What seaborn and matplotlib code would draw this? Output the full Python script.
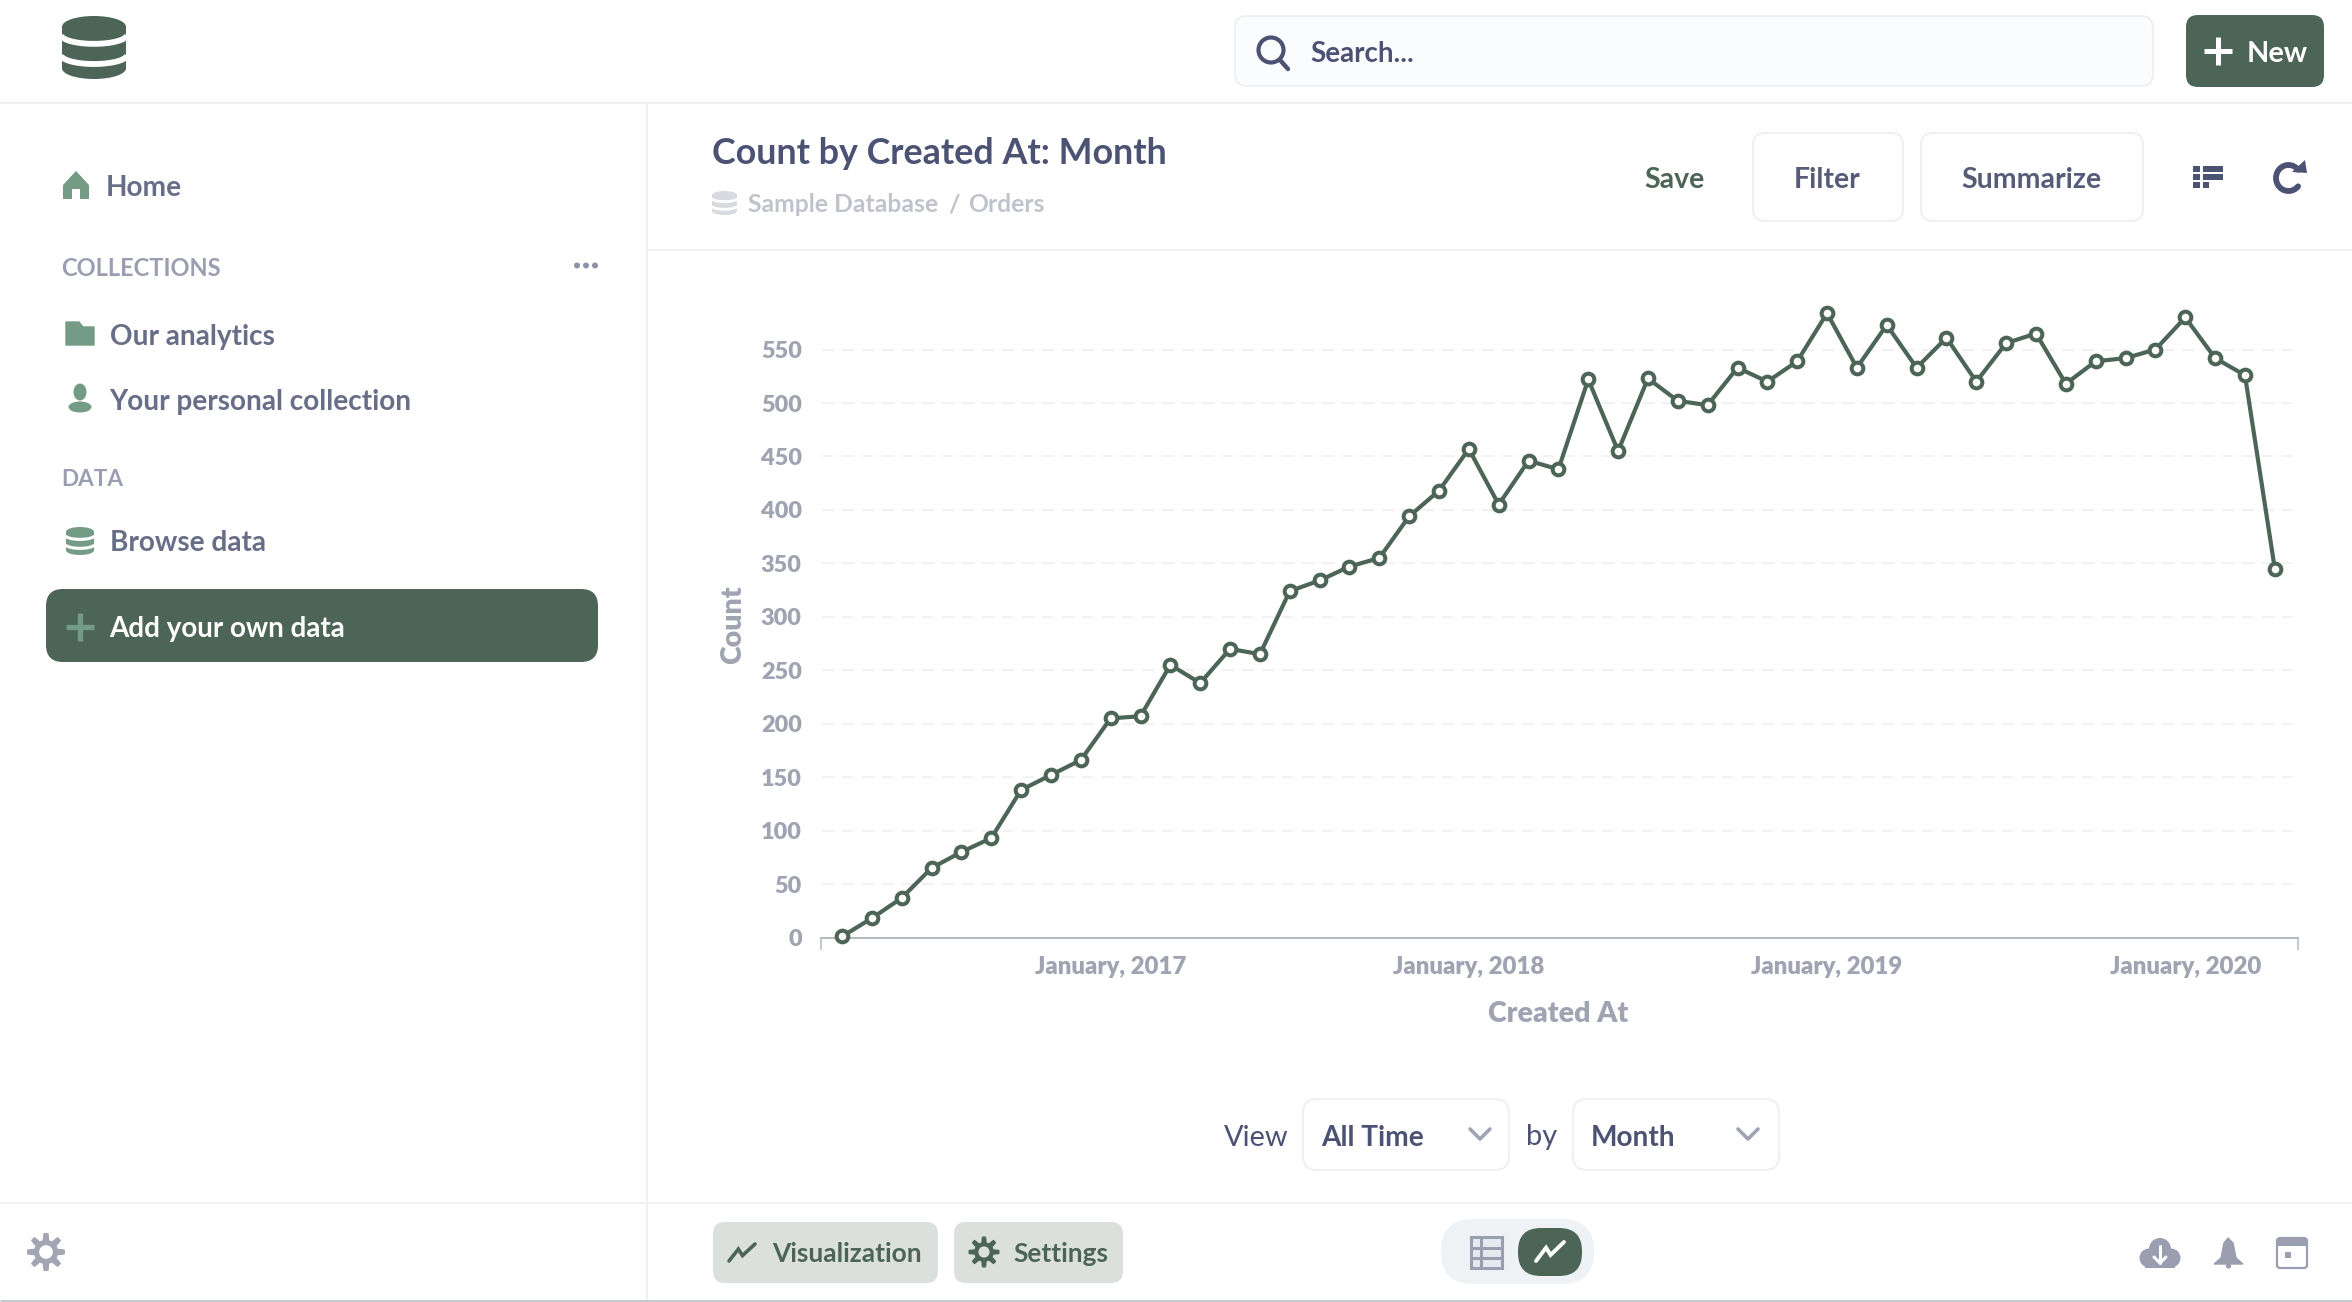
import numpy as np
import pandas as pd
import seaborn as sns
import matplotlib
matplotlib.use("Agg")
import matplotlib.pyplot as plt
from matplotlib.patches import FancyBboxPatch, Circle, Ellipse, Polygon, Rectangle
from matplotlib.transforms import ScaledTranslation

months = [str(p) for p in pd.period_range("2016-04", "2020-04", freq="M")]
counts = [1, 18, 37, 65, 80, 93, 138, 152, 166, 205, 207, 255, 238, 270, 265, 324, 334,
          347, 355, 394, 418, 457, 405, 446, 438, 522, 455, 523, 502, 498, 533, 520, 539,
          584, 533, 573, 533, 561, 520, 556, 565, 518, 539, 542, 550, 580, 542, 526, 345]
tick_months = ["2017-01", "2018-01", "2019-01", "2020-01"]
tick_labels = ["January, 2017", "January, 2018", "January, 2019", "January, 2020"]
y_ticks = [0, 50, 100, 150, 200, 250, 300, 350, 400, 450, 500, 550]

DARK = "#4c6557"
ICON = "#749b85"
INK = "#4c5273"
SIDE = "#696e88"
MUTED = "#a0a3b1"
RULE = "#eef0f1"

sns.set_theme(style="white")
plt.rcParams["font.family"] = ["Lato", "DejaVu Sans"]

W, H = 2352, 1302
fig = plt.figure(figsize=(W / 100, H / 100), dpi=100, facecolor="white")
ui = fig.add_axes([0, 0, 1, 1], zorder=0)
ui.set_xlim(0, W)
ui.set_ylim(H, 0)
ui.axis("off")


def box(x0, y0, x1, y1, r=14, fc="white", ec="none", lw=0, z=2):
    ui.add_patch(FancyBboxPatch((x0 + r, y0 + r), x1 - x0 - 2 * r, y1 - y0 - 2 * r,
                                boxstyle=f"round,pad={r},rounding_size={r}",
                                fc=fc, ec=ec, lw=lw, zorder=z))


def label(x, y, s, px, color=SIDE, weight="bold", ha="left", z=5):
    ui.text(x, y, s, fontsize=px * 0.72, color=color, fontweight=weight, ha=ha,
            va="center_baseline", zorder=z)


def rule(x0, y0, x1, y1, color=RULE, lw=1.5):
    ui.plot([x0, x1], [y0, y1], color=color, lw=lw, solid_capstyle="butt", zorder=1)


def db_icon(x0, y0, x1, y1, color, band=3.6):
    w, h = x1 - x0, y1 - y0
    cap = h * 0.17
    ui.add_patch(Rectangle((x0, y0 + cap), w, h - 2 * cap, fc=color, ec="none", zorder=3))
    ui.add_patch(Ellipse(((x0 + x1) / 2, y0 + cap), w, 2 * cap, fc=color, ec="none", zorder=3))
    ui.add_patch(Ellipse(((x0 + x1) / 2, y1 - cap), w, 2 * cap, fc=color, ec="none", zorder=3))
    t = np.linspace(np.pi, 0, 40)
    for f in (0.34, 0.66):
        ui.plot((x0 + x1) / 2 + w / 2 * np.cos(t) * 1.03, y0 + h * f + cap * 0.85 * np.sin(t) - cap * 0.25,
                color="white", lw=band, zorder=4, solid_capstyle="butt")


def gear(cx, cy, r, color, hole="white"):
    a = np.linspace(0, 2 * np.pi, 97)
    rad = r * (0.82 + 0.18 * np.clip(2.2 * np.cos(8 * a), -1, 1))
    ui.add_patch(Polygon(np.c_[cx + rad * np.cos(a), cy + rad * np.sin(a)], fc=color, ec="none", zorder=4))
    ui.add_patch(Circle((cx, cy), r * 0.36, fc=hole, ec="none", zorder=5))


def spark(x0, y0, x1, y1, color, lw=2.6):
    w, h = x1 - x0, y1 - y0
    ui.plot([x0, x0 + .36 * w, x0 + .52 * w, x1], [y1, y0 + .3 * h, y0 + .68 * h, y0],
            color=color, lw=lw, zorder=6, solid_joinstyle="miter")


def chevron(cx, cy, color="#a0a3b1"):
    ui.plot([cx - 10, cx, cx + 10], [cy - 5, cy + 5, cy - 5], color=color, lw=2.6, zorder=5)


# ----- frame
rule(0, 103, W, 103)
rule(647, 103, 647, 1300)
rule(647, 250, W, 250)
rule(0, 1202.5, W, 1202.5)
rule(0, 1300.5, W, 1300.5, color="#c2c5d0", lw=2)

# ----- top bar
db_icon(62, 16, 126, 79, DARK, band=4.2)
box(1235, 16, 2153, 86, r=12, fc="#fbfcfd", ec=RULE, lw=1.5)
ui.add_patch(Circle((1271, 50), 12.5, fc="none", ec=INK, lw=3, zorder=5))
ui.plot([1280, 1288], [60, 69], color=INK, lw=3.2, zorder=5)
label(1310, 51, "Search...", 27.8, INK)
box(2186, 15, 2324, 87, r=12, fc=DARK)
ui.plot([2204, 2232], [51, 51], color="white", lw=3.6, zorder=5, solid_capstyle="butt")
ui.plot([2218, 2218], [37, 65], color="white", lw=3.6, zorder=5, solid_capstyle="butt")
label(2247, 51, "New", 29, "white")

# ----- sidebar
ui.add_patch(Polygon([(63, 185), (76, 171), (89, 185), (89, 199), (80, 199), (80, 189), (72, 189), (72, 199), (63, 199)],
                     fc=ICON, ec="none", zorder=4))
label(106, 185.5, "Home", 28)
label(61, 267, "COLLECTIONS", 23.6, "#9a9eb0")
for dx in (577, 586, 595):
    ui.add_patch(Circle((dx, 265.5), 3, fc="#8e92a4", ec="none", zorder=4))
ui.add_patch(Polygon([(66, 322), (79, 322), (83, 327), (94, 327), (94, 345), (66, 345)], fc=ICON, ec=ICON, lw=1, joinstyle="round", zorder=4))
label(110, 334, "Our analytics", 28)
ui.add_patch(Ellipse((80, 392), 13, 17, fc=ICON, ec="none", zorder=4))
ui.add_patch(Ellipse((80, 407), 23, 11, fc=ICON, ec="none", zorder=4))
label(109.5, 399.5, "Your personal collection", 28)
label(61, 478, "DATA", 22.5, "#9a9eb0")
db_icon(66, 527, 94, 555, ICON, band=2.2)
label(110, 540.5, "Browse data", 28)
box(46, 589, 598, 662, r=17, fc=DARK)
ui.plot([66, 94], [627, 627], color=ICON, lw=3.8, zorder=5, solid_capstyle="butt")
ui.plot([80, 80], [613, 641], color=ICON, lw=3.8, zorder=5, solid_capstyle="butt")
label(109, 626, "Add your own data", 27.8, "white")
gear(46, 1252, 19, "#a3a6b2")

# ----- question header
label(712, 150.5, "Count by Created At: Month", 35.9, INK)
db_icon(712, 191, 737, 215, "#d8dadf", band=2)
label(748.5, 203, "Sample Database", 24.8, "#c0c3cc")
label(948, 203, "/", 24.8, "#c0c3cc")
label(968, 203, "Orders", 24.8, "#c0c3cc")
label(1674, 178, "Save", 28.5, DARK, ha="center")
box(1753, 133, 1903, 221, r=12, ec=RULE, lw=1.5)
label(1827.5, 178, "Filter", 28.5, "#565c78", ha="center")
box(1921, 133, 2143, 221, r=12, ec=RULE, lw=1.5)
label(2031.5, 178, "Summarize", 28.5, "#565c78", ha="center")
for yy in (165.5, 173.5, 181.5):
    ui.add_patch(Rectangle((2193, yy), 7, 6.5, fc=INK, ec="none", zorder=5))
for yy, xe in ((165.5, 2223), (173.5, 2223), (181.5, 2209)):
    ui.add_patch(Rectangle((2203, yy), xe - 2203, 6.5, fc=INK, ec="none", zorder=5))
t = np.linspace(np.radians(-40), np.radians(-320), 40)
ui.plot(2288.5 + 12.5 * np.cos(t), 178 + 13 * np.sin(t), color=INK, lw=4.2, zorder=5)
ui.add_patch(Polygon([(2292, 172), (2307, 173), (2305, 160)], fc=INK, ec="none", zorder=5))

# ----- view controls
label(1224, 1135, "View", 29, INK, weight="normal")
box(1303, 1099, 1509, 1170, r=14, ec=RULE, lw=1.5)
label(1321, 1135, "All Time", 28, INK)
chevron(1480, 1134)
label(1526, 1135, "by", 29, INK, weight="normal")
box(1573, 1099, 1779, 1170, r=14, ec=RULE, lw=1.5)
label(1591, 1135, "Month", 28, INK)
chevron(1748, 1134)

# ----- footer
box(713, 1222, 938, 1283, r=12, fc="#dbe0dd")
spark(729, 1244, 755, 1261, DARK)
label(772, 1252.5, "Visualization", 26.2, DARK)
box(954, 1222, 1123, 1283, r=12, fc="#dbe0dd")
gear(984, 1252, 15.5, DARK, hole="#dbe0dd")
label(1013, 1252.5, "Settings", 26.2, DARK)
box(1441, 1219, 1594, 1284, r=32, fc="#eff2f4")
box(1518, 1228, 1582, 1276, r=23, fc=DARK, z=3)
spark(1536, 1242, 1564, 1261, "white", lw=2.8)
ui.add_patch(Rectangle((1471, 1237), 31, 31, fc="#e6eaf0", ec="#9a9eb0", lw=2.2, zorder=4))
for yy in (1247.5, 1257.5):
    ui.plot([1471, 1502], [yy, yy], color="#9a9eb0", lw=2.2, zorder=5)
ui.plot([1481, 1481], [1237, 1268], color="#9a9eb0", lw=2.2, zorder=5)

for cx, cy, r in ((2149, 1258, 9.5), (2171, 1258, 9.5), (2160, 1249, 11)):
    ui.add_patch(Circle((cx, cy), r, fc="#9a9eb0", ec="none", zorder=4))
ui.add_patch(Rectangle((2145, 1256), 30, 12, fc="#9a9eb0", ec="none", zorder=4))
ui.plot([2160, 2160], [1246, 1263], color="white", lw=2.2, zorder=5)
ui.plot([2154, 2160, 2166], [1257, 1263, 1257], color="white", lw=2.2, zorder=5)
ui.add_patch(Polygon([(2228, 1238), (2233, 1243), (2236, 1258), (2243, 1264), (2214, 1264), (2221, 1258), (2224, 1243)],
                     fc="#9a9eb0", ec="#9a9eb0", lw=1, zorder=4))
ui.add_patch(Circle((2228.5, 1266), 2.6, fc="#9a9eb0", ec="none", zorder=4))
box(2277, 1238, 2307, 1268, r=3, fc="white", ec="#9a9eb0", lw=1.6, z=4)
ui.add_patch(Rectangle((2277, 1238), 30, 8, fc="#9a9eb0", ec="none", zorder=5))
ui.add_patch(Rectangle((2285, 1252), 6, 6, fc="#9a9eb0", ec="none", zorder=5))

# ----- chart
left, right, top, bottom = 820.5, 2298.0, 300.0, 937.5
ax = fig.add_axes([left / W, 1 - bottom / H, (right - left) / W, (bottom - top) / H], zorder=2)
ax.patch.set_alpha(0)
df = pd.DataFrame({"month": months, "count": counts})
sns.lineplot(data=df, x="month", y="count", ax=ax, color=DARK, lw=3.0, marker="o", markersize=8.4,
             markerfacecolor="white", markeredgecolor=DARK, markeredgewidth=2.9, clip_on=False,
             errorbar=None, sort=False, zorder=4)
step = 29.85
first = 842.0
xlim = ((left - first) / step, (right - first) / step)
ax.set_xlim(*xlim)
ax.set_ylim(0, (bottom - top) / 1.069)
ax.set_xticks([months.index(m) for m in tick_months], tick_labels)
ax.set_xticks(list(xlim), minor=True)
ax.set_yticks(y_ticks)
ax.tick_params(axis="x", which="major", length=0, pad=13, labelsize=24 * 0.72, labelcolor=MUTED)
ax.tick_params(axis="x", which="minor", length=8.5, width=1.1, color="#b8bac2", bottom=True)
ax.tick_params(axis="y", length=0, pad=13.5, labelsize=23.5 * 0.72, labelcolor=MUTED)
for t_ in ax.get_xticklabels() + ax.get_yticklabels():
    t_.set_fontweight("heavy")
ax.grid(visible=False)
ax.hlines(y_ticks[1:], (822 - first) / step, (2292 - first) / step, color="#f1f2f3", lw=1.5,
          linestyles=[(0, (5.8, 3.8))], zorder=1)
sns.despine(ax=ax, left=True)
ax.spines["bottom"].set_color("#b8bac2")
ax.spines["bottom"].set_linewidth(1.5)
ax.set_xlabel("Created At", fontsize=28.5 * 0.72, color=MUTED, fontweight="heavy")
ax.set_ylabel("Count", fontsize=28.5 * 0.72, color=MUTED, fontweight="heavy")
ax.xaxis.set_label_coords((1558 - left) / (right - left), -(1013.5 - bottom) / (bottom - top), transform=ax.transAxes)
ax.xaxis.label.set_va("center")
ax.yaxis.set_label_coords(-(left - 733.5) / (right - left), (bottom - 625) / (bottom - top), transform=ax.transAxes)
ax.yaxis.label.set_va("center")

fig.savefig("out.png", dpi=100, facecolor="white")
